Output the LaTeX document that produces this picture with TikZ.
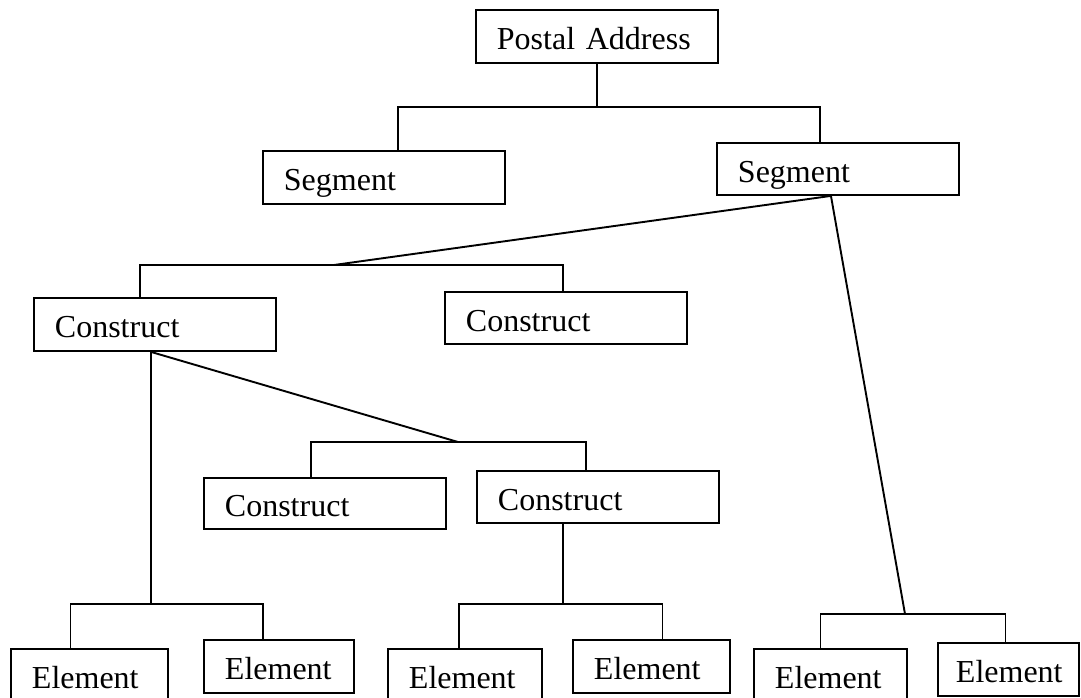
\documentclass[tikz,border=0pt]{standalone}
\usepackage{fontspec}
\setmainfont{Liberation Serif}
\tikzset{
  unit/.style={draw, line width=1.9pt, inner xsep=21pt, inner ysep=0pt,
    text height=28pt, text depth=1pt, minimum height=53pt,
    text width=#1, align=left, anchor=north west},
  unit/.default=200pt,
  link/.style={line width=1.9pt}
}
\begin{document}
\begin{tikzpicture}[x=1pt, y=-1pt, font=\fontsize{32}{38}\selectfont]
  \useasboundingbox (0,0) rectangle (1081,698);
  \node[unit] (postal) at (475,9) {Postal Address};
  \node[unit] (segl) at (262,150) {Segment};
  \node[unit, minimum height=52pt] (segr) at (716,142) {Segment};
  \node[unit] (cons1) at (33,297) {Construct};
  \node[unit, minimum height=52pt] (cons2) at (444,291) {Construct};
  \node[unit, minimum height=51pt] (cons3) at (203,477) {Construct};
  \node[unit, minimum height=52pt] (cons4) at (476,470) {Construct};
  \node[unit=115pt] (elem1) at (10,648) {Element};
  \node[unit=108pt] (elem2) at (203,639) {Element};
  \node[unit=112pt] (elem3) at (387,648) {Element};
  \node[unit=115pt] (elem4) at (572,639) {Element};
  \node[unit=111pt] (elem5) at (753,648) {Element};
  \node[unit=105pt, inner xsep=18pt] (elem6) at (937,642) {Element};
  \coordinate (jroot) at (597,107);
  \coordinate (jseg) at (334,265);
  \coordinate (jcons) at (458,442);
  \coordinate (jelem1) at (151,604);
  \coordinate (jelem2) at (563,604);
  \coordinate (jelem3) at (905,614);
  \draw[link] (postal.south) -- (jroot);
  \draw[link] ([xshift=14pt]segl.north) |- (jroot) -| ([xshift=-18pt]segr.north);
  \draw[link] ([xshift=-7pt]segr.south) -- (jseg)
              ([xshift=-7pt]segr.south) -- (jelem3);
  \draw[link] ([xshift=-15pt]cons1.north) |- (jseg) -| ([xshift=-3pt]cons2.north);
  \draw[link] ([xshift=-4pt]cons1.south) -- (jcons)
              ([xshift=-4pt]cons1.south) -- (jelem1);
  \draw[link] ([xshift=-14pt]cons3.north) |- (jcons) -| ([xshift=-12pt]cons4.north);
  \draw[link] ([xshift=-35pt]cons4.south) -- (jelem2);
  \draw[link] ([xshift=-19pt]elem1.north) |- (jelem1) -| ([xshift=-16pt]elem2.north);
  \draw[link] ([xshift=-6pt]elem3.north) |- (jelem2) -| ([xshift=11pt]elem4.north);
  \draw[link] ([xshift=-10pt]elem5.north) |- (jelem3) -| ([xshift=-3pt]elem6.north);
\end{tikzpicture}
\end{document}
